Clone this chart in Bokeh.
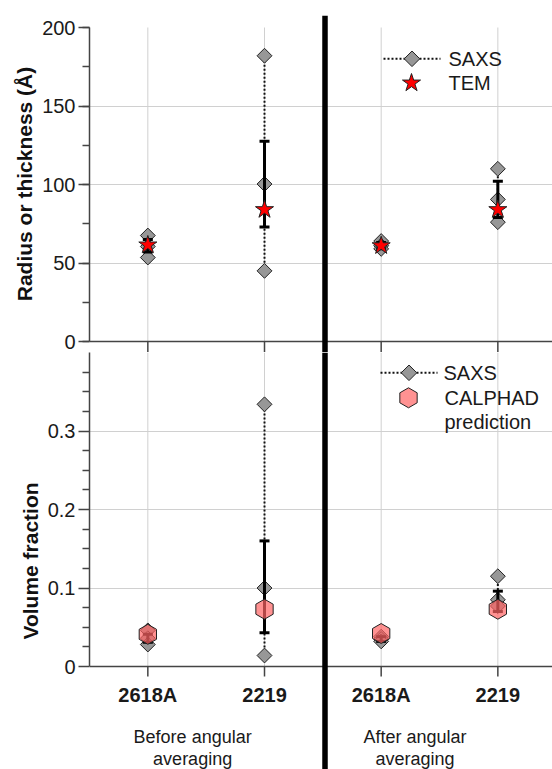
import numpy as np
from bokeh.plotting import figure
from bokeh.models import (ColumnDataSource, Range1d, FixedTicker, SingleIntervalTicker,
                          Span, CustomJSTickFormatter)
from bokeh.core.properties import value
from bokeh.layouts import column
from bokeh.embed import file_html
from bokeh.resources import INLINE

# ---------------- data ----------------
alloys = ["2618A", "2219", "2618A", "2219"]
xpos = [1, 2, 3, 4]
group_x = [1.384, 3.29]
group_line1 = ["Before angular", "After angular"]
group_line2 = ["averaging", "averaging"]

# radius / thickness (Å)
saxs_size = [[67.5, 60.5, 53.5], [182.0, 100.3, 45.0], [64.0, 61.0, 59.0], [110.0, 90.5, 76.0]]
saxs_size_lo = [57.0, 73.0, 59.0, 79.0]
saxs_size_hi = [65.0, 127.5, 63.0, 102.0]
tem_size = [61.5, 84.0, 61.0, 84.0]

# volume fraction
saxs_vf = [[0.046, 0.036, 0.028], [0.334, 0.100, 0.014], [0.038, 0.035, 0.032], [0.115, 0.085, 0.077]]
saxs_vf_lo = [0.031, 0.043, 0.032, 0.070]
saxs_vf_hi = [0.041, 0.160, 0.038, 0.096]
calphad_vf = [0.041, 0.073, 0.042, 0.073]

FONT = "Liberation Sans"
GRAY = "#979797"
AX = "#444444"
GRID = "#d0d0d0"
TXT = "#1a1a1a"

# ---------------- geometry (pixels) ----------------
LEFT = 89
FRAME_W = 552 - LEFT
X0 = 0.5
PX_X = 1 / 116.67                    # data units per pixel along x
X1 = X0 + FRAME_W * PX_X


def xpx(dx_px):
    """x data coordinate of a point dx_px pixels right of the frame's left edge"""
    return X0 + dx_px * PX_X


def base_fig(height, yr, btop):
    p = figure(width=LEFT + FRAME_W, height=height, x_range=Range1d(X0, X1), y_range=yr,
               output_backend="svg", toolbar_location=None, x_axis_location=None,
               min_border_left=LEFT, min_border_right=0, min_border_top=btop,
               min_border_bottom=0)
    p.outline_line_color = None
    p.background_fill_color = "white"
    p.border_fill_color = "white"
    ax = p.yaxis
    ax.axis_line_color = AX
    ax.axis_line_width = 1.5
    ax.major_tick_line_color = AX
    ax.major_tick_line_width = 1.5
    ax.minor_tick_line_color = AX
    ax.minor_tick_line_width = 1.5
    ax.major_tick_in = 0
    ax.minor_tick_in = 0
    ax.major_tick_out = 11
    ax.minor_tick_out = 7
    ax.major_label_text_font = FONT
    ax.major_label_text_color = TXT
    ax.major_label_text_font_size = "20px"
    ax.major_label_standoff = 3
    ax.axis_label_text_font = FONT
    ax.axis_label_text_font_size = "21px"
    ax.axis_label_text_font_style = "bold"
    ax.axis_label_text_color = "#111111"
    ax.axis_label_standoff = 3
    p.xgrid.visible = False
    p.ygrid.grid_line_color = GRID
    p.ygrid.grid_line_width = 1
    return p


def draw_panel(p, ymax, yunit, tick_px, vals, lo, hi):
    # vertical grid lines at the categories
    p.segment(x0=xpos, y0=[0] * len(xpos), x1=xpos, y1=[ymax] * len(xpos),
              line_color=GRID, line_width=1)
    # x axis line and ticks
    p.add_layout(Span(location=0, dimension="width", line_color=AX, line_width=1.5))
    p.segment(x0=xpos, y0=[0] * len(xpos), x1=xpos, y1=[-tick_px * yunit] * len(xpos),
              line_color=AX, line_width=1.5)
    # SAXS series
    dx, dy = [], []
    for x, vs in zip(xpos, vals):
        for v in vs:
            dx.append(x)
            dy.append(v)
    diam = ColumnDataSource(dict(x=dx, y=dy))
    seg = ColumnDataSource(dict(x=xpos, y0=[min(v) for v in vals], y1=[max(v) for v in vals]))
    err = ColumnDataSource(dict(x=xpos, lo=lo, hi=hi))
    p.segment(x0="x", y0="y0", x1="x", y1="y1", source=seg, line_color="#111111",
              line_width=2, line_dash="2 2")
    p.scatter("x", "y", source=diam, marker="square", angle=np.pi / 4, size=10.5,
              fill_color=GRAY, line_color="#222222", line_width=1)
    p.segment(x0="x", y0="lo", x1="x", y1="hi", source=err, line_color="black", line_width=3)
    p.scatter("x", "lo", source=err, marker="dash", size=10, line_color="black", line_width=3)
    p.scatter("x", "hi", source=err, marker="dash", size=10, line_color="black", line_width=3)


def legend_text(p, yfun, tx, ly, s):
    p.text([xpx(tx)], [yfun(ly)], text=[s], text_font=value(FONT), text_font_size="20px",
           text_color=TXT, text_baseline="middle", text_align="left")


def legend_saxs(p, yfun, lx0, lx1, ly, tx):
    p.segment(x0=[xpx(lx0)], y0=[yfun(ly)], x1=[xpx(lx1)], y1=[yfun(ly)],
              line_color="#111111", line_width=2, line_dash="2 2")
    p.scatter([xpx((lx0 + lx1) / 2)], [yfun(ly)], marker="square", angle=np.pi / 4, size=11,
              fill_color=GRAY, line_color="#222222", line_width=1)
    legend_text(p, yfun, tx, ly, "SAXS")


def add_divider(p):
    p.add_layout(Span(location=xpx(324.5 - LEFT), dimension="height",
                      line_color="black", line_width=5.5))


# ---------------- top panel ----------------
# frame: page y 15 .. 352, value 0 at page y 341, 200 at page y 27
TOP_U = 200 / 314.0
top = base_fig(352, Range1d(-11 * TOP_U, 200 + 12 * TOP_U), 15)
top.yaxis.bounds = (0, 200)
top.yaxis.axis_label = "Radius or thickness (Å)"
top.yaxis.ticker = SingleIntervalTicker(interval=50, num_minor_ticks=2)
top.ygrid.ticker = FixedTicker(ticks=[50, 100, 150])
draw_panel(top, 200, TOP_U, 11, saxs_size, saxs_size_lo, saxs_size_hi)
top.scatter(xpos, tem_size, marker="star", size=19, fill_color="#ff0000",
            line_color="#222222", line_width=1)


def ytop(py):
    return (341 - py) * TOP_U


# legend (pixel offsets from the frame's left edge, page y)
legend_saxs(top, ytop, 294, 351, 58.3, 359)
top.scatter([xpx(322)], [ytop(82.5)], marker="star", size=19, fill_color="#ff0000",
            line_color="#222222", line_width=1)
legend_text(top, ytop, 359, 82.5, "TEM")
add_divider(top)

# ---------------- bottom panel ----------------
# frame: page y 352 .. 769, value 0 at page y 666, 0.4 at page y 352
BOT_U = 0.4 / 314.0
bot = base_fig(417, Range1d(-103 * BOT_U, 0.4), 0)
bot.yaxis.bounds = (0, 0.4)
bot.yaxis.axis_label = "Volume fraction"
bot.yaxis.ticker = FixedTicker(ticks=[0, 0.1, 0.2, 0.3],
                               minor_ticks=[0.025, 0.05, 0.075, 0.125, 0.15, 0.175, 0.225, 0.25,
                                            0.275, 0.325, 0.35, 0.375])
bot.yaxis.formatter = CustomJSTickFormatter(code="return String(Math.round(tick*1000)/1000)")
bot.ygrid.ticker = FixedTicker(ticks=[0.1, 0.2, 0.3])
draw_panel(bot, 0.4, BOT_U, 10, saxs_vf, saxs_vf_lo, saxs_vf_hi)
bot.scatter(xpos, calphad_vf, marker="hex", angle=np.pi / 2, size=20,
            fill_color="#ff6464", fill_alpha=0.7, line_color="#222222", line_width=1)


def ybot(py):
    return (666 - py) * BOT_U


legend_saxs(bot, ybot, 291, 348, 372.3, 354)
bot.scatter([xpx(319)], [ybot(397.3)], marker="hex", angle=np.pi / 2, size=20,
            fill_color="#ff6464", fill_alpha=0.7, line_color="#222222", line_width=1)
legend_text(bot, ybot, 355, 397.3, "CALPHAD")
legend_text(bot, ybot, 355, 421.7, "prediction")

# category labels and group labels below the bottom axis
bot.text(xpos, [-28 * BOT_U] * len(xpos), text=alloys, text_font=value(FONT),
         text_font_size="20px", text_font_style="bold", text_color=TXT,
         text_align="center", text_baseline="middle")
bot.text(group_x, [-70 * BOT_U] * 2, text=group_line1, text_font=value(FONT),
         text_font_size="18px", text_color=TXT, text_align="center", text_baseline="middle")
bot.text(group_x, [-92 * BOT_U] * 2, text=group_line2, text_font=value(FONT),
         text_font_size="18px", text_color=TXT, text_align="center", text_baseline="middle")
add_divider(bot)

layout = column(top, bot, spacing=0)
open("out.html", "w").write(file_html(layout, INLINE))
